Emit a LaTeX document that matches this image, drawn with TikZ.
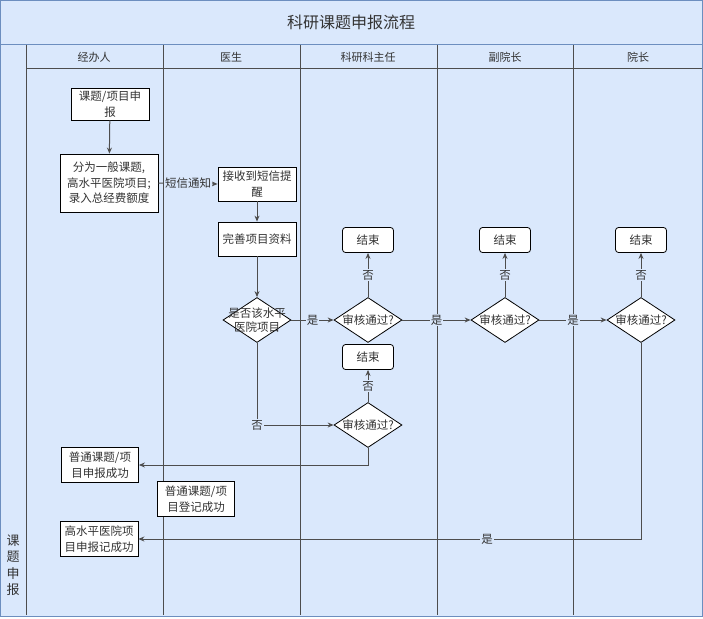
\documentclass[tikz,border=0pt]{standalone}
\usepackage{fontspec}
\setmainfont{Noto Sans CJK SC}
\usetikzlibrary{shapes.geometric,arrows.meta}
\definecolor{lb}{HTML}{DAE8FC}
\definecolor{bd}{HTML}{6C8EBF}
\definecolor{ln}{HTML}{4D4D4D}
\definecolor{tx}{HTML}{333333}
\tikzset{
  box/.style={draw=black, fill=white, line width=0.8pt, align=center, inner sep=1pt,
    font=\fontsize{11.5}{15.5}\selectfont, text=tx},
  endbox/.style={box, rounded corners=3pt, minimum width=51, minimum height=25},
  dia/.style={diamond, draw=black, fill=white, line width=0.8pt, minimum width=68, minimum height=45, inner sep=0pt},
  dtext/.style={align=center, font=\fontsize{11.5}{14}\selectfont, text=tx},
  arr/.style={draw=ln, line width=1pt, -{Stealth[length=6pt,width=5pt]}},
  lab/.style={fill=lb, inner sep=1pt, font=\fontsize{11.5}{14}\selectfont, text=tx},
  lanehd/.style={font=\fontsize{11}{13}\selectfont, text=tx},
}
\begin{document}
\begin{tikzpicture}[x=1pt,y=-1pt]
\useasboundingbox (0,0) rectangle (703,618);
% pool
\draw[fill=lb, draw=bd, line width=1pt] (0.5,0.5) rectangle (702.5,616.5);
\draw[bd, line width=1pt] (0.5,45) -- (702.5,45);
\node[font=\fontsize{16}{18}\selectfont, text=tx] (title) at (351,22) {科研课题申报流程};
% lanes
\draw[ln, line width=0.8pt] (26,68) -- (702,68);
\foreach \x in {26,163,300,437,573} {\draw[ln, line width=0.8pt] (\x,45) -- (\x,615);}
\node[lanehd] (h1) at (94,57) {经办人};
\node[lanehd] (h2) at (231,57) {医生};
\node[lanehd] (h3) at (368,57) {科研科主任};
\node[lanehd] (h4) at (505,57) {副院长};
\node[lanehd] (h5) at (638,57) {院长};
\node[align=center, font=\fontsize{13}{16.5}\selectfont, text=tx] (pool) at (13,565) {课\\题\\申\\报};
% nodes
\node[box, minimum width=78, minimum height=32] (n1) at (110,104) {课题/项目申\\报};
\node[box, minimum width=98, minimum height=58] (n2) at (109,183) {分为一般课题,\\高水平医院项目;\\录入总经费额度};
\node[box, minimum width=78, minimum height=34] (n3) at (257,184) {接收到短信提\\醒};
\node[box, minimum width=78, minimum height=34] (n4) at (257,239) {完善项目资料};
\node[dia] (d1) at (257,320) {};
\node[dtext] (d1t) at (257,320) {是否该水平\\医院项目};
\node[dia] (d2) at (368,320) {};
\node[dtext] (d2t) at (368,320) {审核通过?};
\node[dia] (d3) at (505,320) {};
\node[dtext] (d3t) at (505,320) {审核通过?};
\node[dia] (d4) at (641,320) {};
\node[dtext] (d4t) at (641,320) {审核通过?};
\node[dia] (d5) at (368,425) {};
\node[dtext] (d5t) at (368,425) {审核通过?};
\node[endbox] (e1) at (368,240) {结束};
\node[endbox] (e2) at (505,240) {结束};
\node[endbox] (e3) at (641,240) {结束};
\node[endbox] (e4) at (368,357) {结束};
\node[box, minimum width=77, minimum height=35] (r1) at (100,465) {普通课题/项\\目申报成功};
\node[box, minimum width=77, minimum height=35] (r2) at (196,499) {普通课题/项\\目登记成功};
\node[box, minimum width=78, minimum height=35] (r3) at (99,539) {高水平医院项\\目申报记成功};
% connectors
\draw[arr] (n1) -- (n2);
\draw[arr] (n2.east) -- node[lab] {短信通知} (n3.west);
\draw[arr] (n3) -- (n4);
\draw[arr] (n4) -- (d1);
\draw[arr] (d1.east) -- node[lab] {是} (d2.west);
\draw[arr] (d2.east) -- node[lab] {是} (d3.west);
\draw[arr] (d3.east) -- node[lab] {是} (d4.west);
\draw[arr] (d2.north) -- node[lab] {否} (e1.south);
\draw[arr] (d3.north) -- node[lab] {否} (e2.south);
\draw[arr] (d4.north) -- node[lab] {否} (e3.south);
\draw[arr] (d5.north) -- node[lab] {否} (e4.south);
\draw[arr] (d1.south) -- (d1.south |- d5.west) node[lab] {否} -- (d5.west);
\draw[arr] (d5.south) -- (d5.south |- r1.east) -- (r1.east);
\draw[arr] (d4.south) -- (d4.south |- r3.east) -- node[lab, pos=0.306] {是} (r3.east);
\end{tikzpicture}
\end{document}
